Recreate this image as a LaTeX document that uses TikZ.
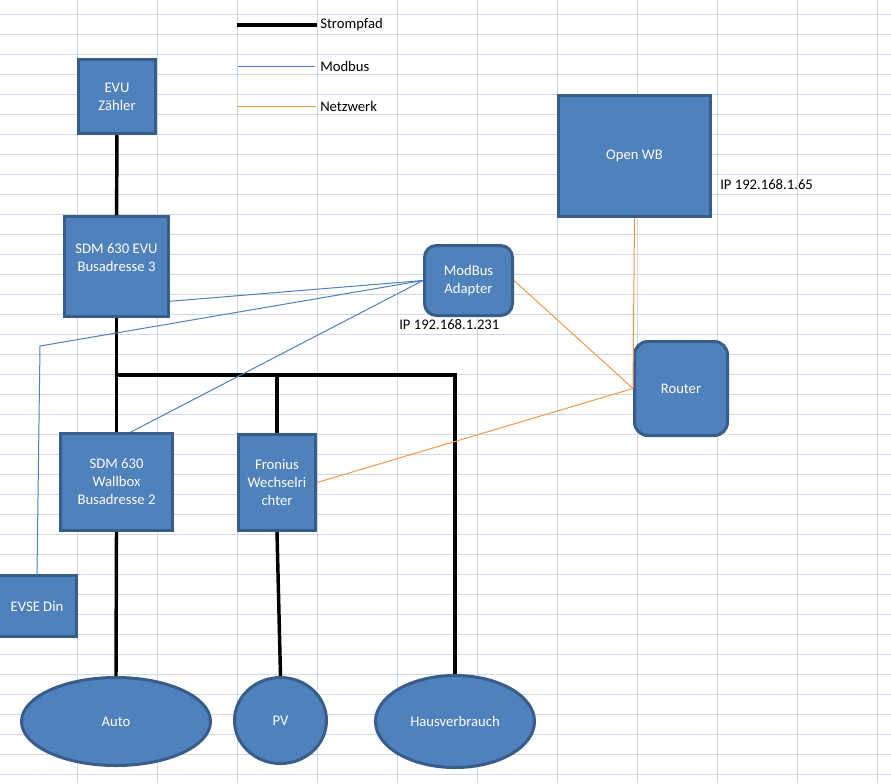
\documentclass[tikz,border=0pt]{standalone}
\usepackage{fontspec}
\setmainfont{Carlito}
\usetikzlibrary{shapes.geometric}
\definecolor{boxfill}{HTML}{4F81BD}
\definecolor{boxline}{HTML}{385D8A}
\definecolor{netzorange}{HTML}{F79646}
\definecolor{gridgray}{HTML}{D0D7E5}
\begin{document}
\begin{tikzpicture}[x=0.75pt,y=-0.75pt]
	\tikzstyle{block}=[rectangle, draw=boxline, fill=boxfill, line width=2.25pt, text=white, align=center, inner sep=1pt, font=\fontsize{11}{13.5}\selectfont]
	\tikzstyle{rblock}=[block, rounded corners=9pt]
	\tikzstyle{oval}=[ellipse, draw=boxline, fill=boxfill, line width=2.25pt, text=white, inner sep=0pt, font=\fontsize{11}{13.5}\selectfont]
	\tikzstyle{label}=[anchor=west, inner sep=0pt, font=\fontsize{11}{13.5}\selectfont]
	\tikzstyle{strom}=[black, line width=2.6pt]
	\tikzstyle{modbus}=[boxfill, line width=0.75pt]
	\tikzstyle{netz}=[netzorange, line width=0.75pt]
	
	\useasboundingbox (0,0) rectangle (891,783);
	\clip (0,0) rectangle (891,783);
	\fill[white] (0,0) rectangle (891,783);
	
	% Tabellenraster
	\foreach \gx in {77,157,...,877} \draw[gridgray, line width=0.75pt] (\gx,0) -- (\gx,783);
	\foreach \gy in {14,34,...,774} \draw[gridgray, line width=0.75pt] (0,\gy) -- (891,\gy);
	
	% Legende
	\coordinate (lgs) at (237,25);
	\coordinate (lgm) at (238,66);
	\coordinate (lgn) at (237,106);
	\draw node at (320,25) [label] (lgstrom) {Strompfad};
	\draw node at (320,66) [label] (lgmod) {Modbus};
	\draw node at (320,106) [label] (lgnetz) {Netzwerk};
	\draw [strom] (lgs) to ([xshift=-2pt]lgstrom.west);
	\draw [modbus] (lgm) to ([xshift=-4pt]lgmod.west);
	\draw [netz] (lgn) to ([xshift=-3pt]lgnetz.west);
	
	\draw node at (117,96.5) [block, minimum width=57.75pt, minimum height=55.5pt] (evu) {EVU\\Zähler};
	\draw node at (116.5,266.5) [block, minimum width=78pt, minimum height=75pt] (sdmevu) {SDM 630 EVU\\Busadresse 3\\\phantom{B}};
	\draw node at (116.5,482) [block, minimum width=84pt, minimum height=72.75pt] (sdmwb) {SDM 630\\Wallbox\\Busadresse 2};
	\draw node at (277,482.5) [block, minimum width=57.75pt, minimum height=72pt] (fronius) {Fronius\\Wechselri\\chter};
	\draw node at (37,606) [block, minimum width=59.25pt, minimum height=45.75pt] (evse) {EVSE Din};
	\draw node at (468.5,280.5) [rblock, minimum width=66pt, minimum height=52.5pt] (adapter) {ModBus\\Adapter};
	\draw node at (634.5,156) [block, minimum width=114pt, minimum height=90.75pt] (openwb) {Open WB};
	\draw node at (681,388.5) [rblock, rounded corners=10pt, minimum width=69.75pt, minimum height=70.5pt] (router) {Router};
	\draw node at (116,721.5) [oval, minimum width=141.75pt, minimum height=66pt] (auto) {Auto};
	\draw node at (280.5,720.5) [oval, minimum width=69pt, minimum height=64.5pt] (pv) {PV};
	\draw node at (455,721.5) [oval, minimum width=119.25pt, minimum height=69pt] (haus) {Hausverbrauch};
	
	\draw node at (399,325) [label] (ipadapter) {IP 192.168.1.231};
	\draw node at (720,185) [label] (ipopenwb) {IP 192.168.1.65};
	
	% Strompfad
	\coordinate (bus) at (117,375);
	\draw [strom] (evu) to (sdmevu);
	\draw [strom] (sdmevu) to (sdmwb);
	\draw [strom] (bus) -| (haus.north);
	\draw [strom] (fronius.north |- bus) to (fronius.north);
	\draw [strom] (sdmwb.south) to (auto.north);
	\draw [strom] (fronius.south) to (pv.north);
	
	% Modbus
	\coordinate (evsebend) at (40,346);
	\draw [modbus] (adapter.west) to (sdmevu.-33);
	\draw [modbus] (adapter.west) -- (evsebend) -- (evse.north);
	\draw [modbus] (adapter.west) to (sdmwb.74);
	
	% Netzwerk
	\draw [netz] (openwb.south) to (router.west);
	\draw [netz] (adapter.east) to (router.west);
	\draw [netz] (fronius.east) to (router.west);
\end{tikzpicture}
\end{document}
